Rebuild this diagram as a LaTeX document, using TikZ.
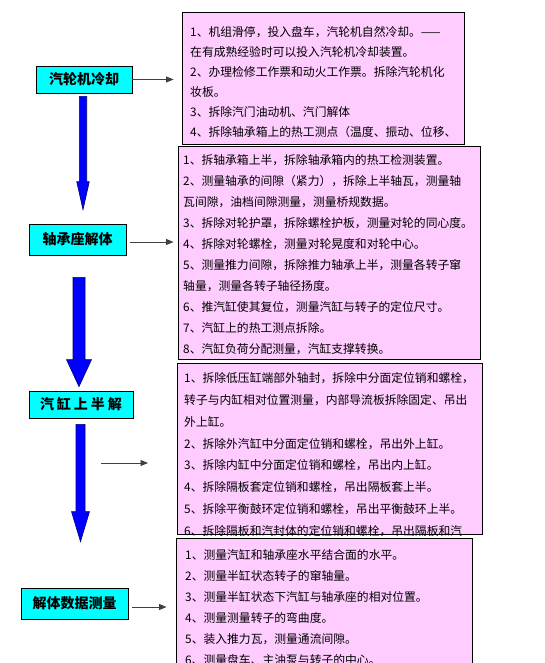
\documentclass[tikz,border=0pt]{standalone}
\usepackage{fontspec}
\setmainfont{Noto Sans CJK SC}
\usetikzlibrary{arrows.meta, calc}

\definecolor{labelcyan}{RGB}{0,255,255}
\definecolor{steppink}{RGB}{255,204,255}
\definecolor{arrowblue}{RGB}{0,0,255}
\definecolor{arrowedge}{RGB}{0,0,110}

% fat blue arrow: start, tip, shaft half width, head half width, head length
\newcommand\bigarrow[5]{%
  \path (#1) coordinate (ba-s) (#2) coordinate (ba-t);
  \filldraw[fill=arrowblue, draw=arrowedge, line width=0.6pt]
    ($(ba-s)+(-#3,0)$) -- ($(ba-s)+(#3,0)$) -- ($(ba-s|-ba-t)+(#3,-#5)$)
    -- ($(ba-s|-ba-t)+(#4,-#5)$) -- (ba-s|-ba-t) -- ($(ba-s|-ba-t)+(-#4,-#5)$)
    -- ($(ba-s|-ba-t)+(-#3,-#5)$) -- cycle;}

\begin{document}
\begin{tikzpicture}[x=1pt, y=-1pt,
  labelbox/.style={draw=black, line width=0.8pt, fill=labelcyan, inner sep=0pt,
    font=\fontsize{14}{16}\selectfont\bfseries},
  stepsbox/.style={draw=black, line width=0.9pt, fill=steppink, inner sep=0pt},
  steptext/.style={anchor=north west, inner sep=0pt, align=left,
    font=\fontsize{11.8}{21}\selectfont},
  thinarrow/.style={draw=black!75, line width=0.9pt,
    -{Triangle[length=7.5pt, width=6pt]}}]
  \clip (0,0) rectangle (544,663);

  % left column
  \node[labelbox, minimum width=96, minimum height=27] (cool) at (84,79.5) {汽轮机冷却\hspace{7pt}};
  \node[labelbox, minimum width=97, minimum height=31] (bear) at (77.5,239.5) {轴承座解体\hspace{8pt}};
  \node[labelbox, minimum width=104, minimum height=27] (cyl) at (81,404.5) {汽\hspace{3pt}缸\hspace{3pt}上\hspace{3pt}半\hspace{3pt}解};
  \node[labelbox, minimum width=107, minimum height=31] (meas) at (74.5,603.5) {解体数据测量\hspace{6pt}};

  % right column
  \node[stepsbox, minimum width=282, minimum height=132] (coolbox) at (323,78) {};
  \node[stepsbox, minimum width=302, minimum height=212.5] (bearbox) at (329,252.75) {};
  \node[stepsbox, minimum width=305, minimum height=171] (cylbox) at (329.5,448.5) {};
  \node[stepsbox, minimum width=296, minimum height=142] (measbox) at (324,609) {};

  \node[steptext, font=\fontsize{11.8}{20}\selectfont] (cooltext) at (190,26.5) {%
    1、机组滑停，投入盘车，汽轮机自然冷却。——\\
    在有成熟经验时可以投入汽轮机冷却装置。\\
    2、办理检修工作票和动火工作票。拆除汽轮机化\\
    妆板。\\
    3、拆除汽门油动机、汽门解体\\
    4、拆除轴承箱上的热工测点（温度、振动、位移、};

  \node[steptext] (beartext) at (183,154.5) {%
    1、拆轴承箱上半，拆除轴承箱内的热工检测装置。\\
    2、测量轴承的间隙（紧力），拆除上半轴瓦，测量轴\\
    瓦间隙，油档间隙测量，测量桥规数据。\\
    3、拆除对轮护罩，拆除螺栓护板，测量对轮的同心度。\\
    4、拆除对轮螺栓，测量对轮晃度和对轮中心。\\
    5、测量推力间隙，拆除推力轴承上半，测量各转子窜\\
    轴量，测量各转子轴径扬度。\\
    6、推汽缸使其复位，测量汽缸与转子的定位尺寸。\\
    7、汽缸上的热工测点拆除。\\
    8、汽缸负荷分配测量，汽缸支撑转换。};

  % last line is cut by the box
  \begin{scope}
    \clip ([shift={(1,-1)}]cylbox.north west) rectangle ([shift={(-1,1)}]cylbox.south east);
    \node[steptext, font=\fontsize{11.8}{21.8}\selectfont] (cyltext) at (184,372.5) {%
      1、拆除低压缸端部外轴封，拆除中分面定位销和螺栓，\\
      转子与内缸相对位置测量，内部导流板拆除固定、吊出\\
      外上缸。\\
      2、拆除外汽缸中分面定位销和螺栓，吊出外上缸。\\
      3、拆除内缸中分面定位销和螺栓，吊出内上缸。\\
      4、拆除隔板套定位销和螺栓，吊出隔板套上半。\\
      5、拆除平衡鼓环定位销和螺栓，吊出平衡鼓环上半。\\
      6、拆除隔板和汽封体的定位销和螺栓，吊出隔板和汽};
  \end{scope}

  \node[steptext] (meastext) at (185,549.5) {%
    1、测量汽缸和轴承座水平结合面的水平。\\
    2、测量半缸状态转子的窜轴量。\\
    3、测量半缸状态下汽缸与轴承座的相对位置。\\
    4、测量测量转子的弯曲度。\\
    5、装入推力瓦，测量通流间隙。\\
    6、测量盘车、主油泵与转子的中心。};

  % thin arrows
  \coordinate (cyl-from) at (101,463);
  \coordinate (cyl-to) at (148,463);
  \draw[thinarrow, shorten >=8pt] (cool.east) -- (cool.east -| coolbox.west);
  \draw[thinarrow, shorten <=4pt, shorten >=4pt] ([yshift=-2.5pt]bear.east) -- ([yshift=-2.5pt]bear.east -| bearbox.west);
  \draw[thinarrow] (cyl-from) -- (cyl-to);
  \draw[thinarrow, shorten <=4pt, shorten >=9pt] ([yshift=-3.5pt]meas.east) -- ([yshift=-3.5pt]meas.east -| measbox.west);

  % blue arrows
  \bigarrow{[shift={(-1,-3pt)}]cool.south}{[yshift=14pt]bear.north}{3.7}{6.3}{28}
  \bigarrow{[shift={(1.5,-22pt)}]bear.south}{[yshift=4pt]cyl.north}{6}{12.5}{27}
  \bigarrow{[shift={(-0.5,-6pt)}]cyl.south}{[yshift=46pt]meas.north}{4.5}{9}{30}
\end{tikzpicture}
\end{document}
